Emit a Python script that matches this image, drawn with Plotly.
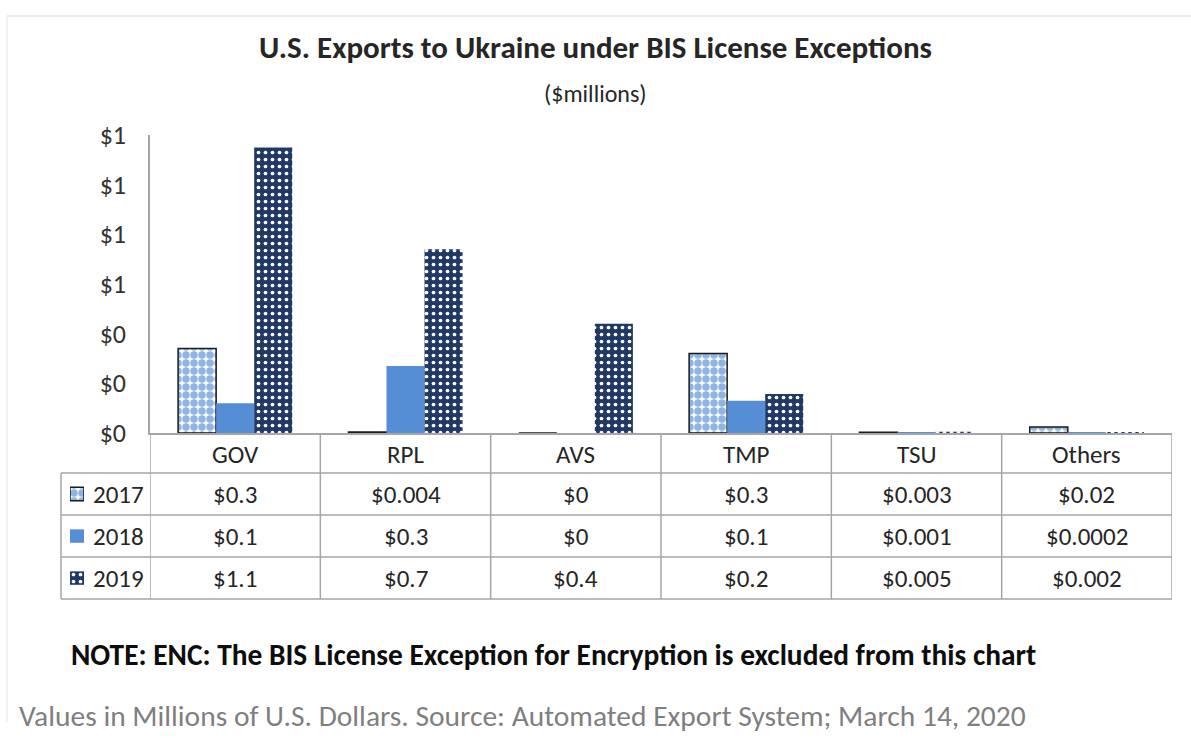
import plotly.graph_objects as go

categories = ["GOV", "RPL", "AVS", "TMP", "TSU", "Others"]
years = ["2017", "2018", "2019"]
values_2017 = [0.34, 0.004, 0.0, 0.32, 0.003, 0.024]
values_2018 = [0.12, 0.27, 0.0, 0.13, 0.001, 0.0002]
values_2019 = [1.15, 0.74, 0.44, 0.157, 0.005, 0.002]
table_2017 = ["$0.3", "$0.004", "$0", "$0.3", "$0.003", "$0.02"]
table_2018 = ["$0.1", "$0.3", "$0", "$0.1", "$0.001", "$0.0002"]
table_2019 = ["$1.1", "$0.7", "$0.4", "$0.2", "$0.005", "$0.002"]
y_ticks = [0, 0.2, 0.4, 0.6, 0.8, 1.0, 1.2]

W, H = 1191, 738
FONT = "Carlito, Lato, 'Liberation Sans', sans-serif"
TXT = "#262626"
GRID = "#a6a6a6"

# vertical calibration of the photographed page (observed offset / scale)
V_OFF, V_SCALE = 16.0, 0.9565


def px(x):
    return x / W


def py(y):
    yy = (y - V_OFF) / V_SCALE
    return 1 - yy / H


styles = {
    "2017": dict(color="#8db4e2", line=dict(color="#1a1a1a", width=1.5),
                 pattern=dict(shape=".", fgcolor="#8db4e2", bgcolor="white", size=8, solidity=0.68, fillmode="replace")),
    "2018": dict(color="#558ed5", line=dict(width=0)),
    "2019": dict(color="#203864", line=dict(width=0),
                 pattern=dict(shape=".", fgcolor="white", bgcolor="#203864", size=7, solidity=0.22, fillmode="replace")),
}

fig = go.Figure()
series = {"2017": values_2017, "2018": values_2018, "2019": values_2019}
for yr in years:
    fig.add_trace(go.Bar(x=categories, y=series[yr], name=yr, marker=styles[yr],
                         showlegend=False, xaxis="x", yaxis="y"))

# legend keys in table (mini bars)
for yr in years:
    fig.add_trace(go.Bar(x=[1], y=[yr], orientation="h", marker=styles[yr], width=0.32,
                         showlegend=False, xaxis="x2", yaxis="y2", hoverinfo="skip"))

x0, x1 = 150, 1172
ax_top, ax_bot = 135, 433
rows = [433, 473, 515, 557, 599]

fig.update_layout(
    width=W, height=H,
    margin=dict(l=0, r=0, t=0, b=0),
    paper_bgcolor="white", plot_bgcolor="white",
    font=dict(family=FONT, color=TXT, size=17),
    barmode="group", bargap=0.33, bargroupgap=0,
    xaxis=dict(domain=[px(x0), px(x1)], range=[-0.5, 5.5], showticklabels=False,
               showline=True, linecolor=GRID, linewidth=1.5, ticks="", showgrid=False, zeroline=False,
               fixedrange=True),
    yaxis=dict(domain=[py(ax_bot), py(ax_top)], range=[0, 1.2], tickvals=y_ticks, tickformat="$.0f",
               showline=True, linecolor=GRID, linewidth=1.5, showgrid=False, zeroline=False,
               ticks="", ticklabelstandoff=17, tickfont=dict(size=26, color="#333333")),
    xaxis2=dict(domain=[px(70), px(84)], range=[0, 1], visible=False, anchor="y2"),
    yaxis2=dict(domain=[py(599), py(473)], type="category", categoryorder="array",
                categoryarray=years, autorange="reversed", visible=False, anchor="x2"),
)

shapes = []
# faint outer frame
shapes.append(dict(type="line", xref="paper", yref="paper", x0=px(7), x1=1, y0=1, y1=1,
                   line=dict(color="#ececec", width=2)))
shapes.append(dict(type="line", xref="paper", yref="paper", x0=px(7), x1=px(7), y0=1, y1=0,
                   line=dict(color="#ececec", width=1.5)))
# table horizontal lines
for r in rows[1:]:
    shapes.append(dict(type="line", xref="paper", yref="paper", x0=px(61), x1=px(x1), y0=py(r), y1=py(r),
                       line=dict(color=GRID, width=1.5)))
# table vertical lines at category boundaries
for i in range(len(categories) + 1):
    shapes.append(dict(type="line", xref="x", yref="paper", x0=i - 0.5, x1=i - 0.5, y0=py(rows[0]), y1=py(rows[-1]),
                       line=dict(color=GRID, width=1.5)))
shapes.append(dict(type="line", xref="paper", yref="paper", x0=px(61), x1=px(61), y0=py(rows[1]), y1=py(rows[-1]),
                   line=dict(color=GRID, width=1.5)))

ann = []
ann.append(dict(text="<b>U.S. Exports to Ukraine under BIS License Exceptions</b>", x=0.5, y=py(47),
                xref="paper", yref="paper", showarrow=False, font=dict(size=31, color=TXT), xanchor="center", yanchor="middle"))
ann.append(dict(text="($millions)", x=0.5, y=py(93), xref="paper", yref="paper", showarrow=False,
                font=dict(size=24, color=TXT), xanchor="center", yanchor="middle"))
# header row
for c in categories:
    ann.append(dict(text=c, x=c, xref="x", y=py(454), yref="paper", showarrow=False,
                    font=dict(size=25, color=TXT), xanchor="center", yanchor="middle"))
table_rows = [table_2017, table_2018, table_2019]
for ri, (yr, vals) in enumerate(zip(years, table_rows)):
    cy = (rows[ri + 1] + rows[ri + 2]) / 2
    ann.append(dict(text=yr, x=px(91), y=py(cy), xref="paper", yref="paper", showarrow=False,
                    font=dict(size=25, color=TXT), xanchor="left", yanchor="middle"))
    for c, v in zip(categories, vals):
        ann.append(dict(text=v, x=c, xref="x", y=py(cy), yref="paper", showarrow=False,
                        font=dict(size=25, color=TXT), xanchor="center", yanchor="middle"))
ann.append(dict(text="<b>NOTE: ENC: The BIS License Exception for Encryption is excluded from this chart</b>",
                x=px(69), y=py(655), xref="paper", yref="paper", showarrow=False,
                font=dict(size=29.4, color="#0d0d0d"), xanchor="left", yanchor="middle"))
ann.append(dict(text="Values in Millions of U.S. Dollars. Source: Automated Export System; March 14, 2020",
                x=px(17), y=py(716), xref="paper", yref="paper", showarrow=False,
                font=dict(size=29.5, color="#7f7f7f"), xanchor="left", yanchor="middle"))

fig.update_layout(shapes=shapes, annotations=ann)
fig.write_html("out.html", config={"displayModeBar": False, "responsive": False},
               post_script="document.body.style.margin='0';document.body.style.padding='0';document.documentElement.style.overflow='hidden';document.body.style.overflow='hidden';")
